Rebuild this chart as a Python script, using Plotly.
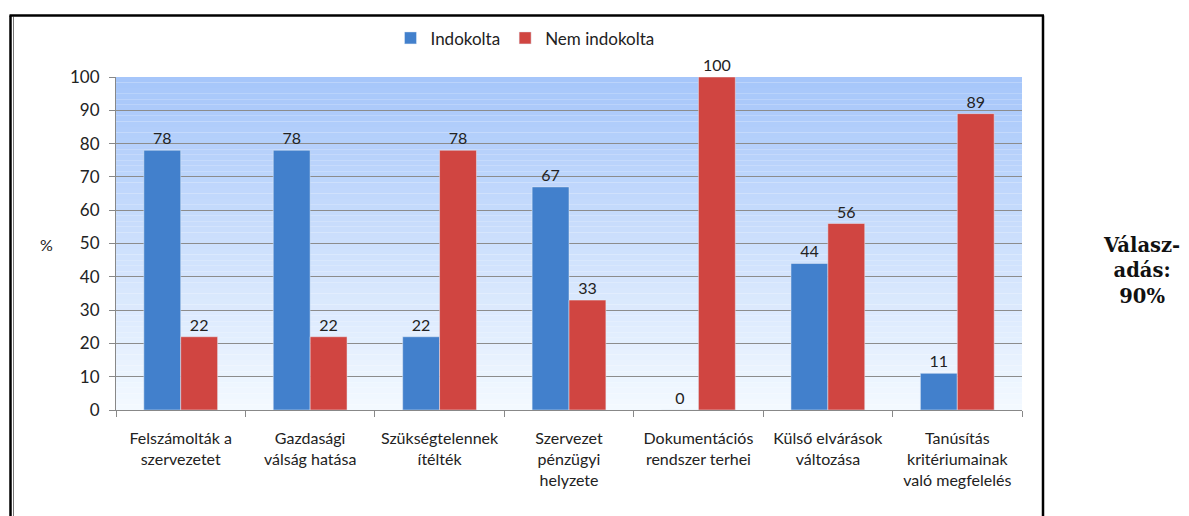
import plotly.graph_objects as go

categories = [
    "Felszámolták a<br>szervezetet",
    "Gazdasági<br>válság hatása",
    "Szükségtelennek<br>ítélték",
    "Szervezet<br>pénzügyi<br>helyzete",
    "Dokumentációs<br>rendszer terhei",
    "Külső elvárások<br>változása",
    "Tanúsítás<br>kritériumainak<br>való megfelelés",
]
indokolta = [78, 78, 22, 67, 0, 44, 11]
nem_indokolta = [22, 22, 78, 33, 100, 56, 89]
y_ticks = list(range(0, 101, 10))

FONT = "Lato"
OFF = 8  # browser default body margin
W, H = 1189 - OFF, 516 - OFF
# plot area in page pixel coordinates of the reference
L, R, T, B = 116, 1022, 74, 410

def px(x):
    return (x - L) / (R - L)

def py(y):
    return (B - y) / (B - T)

fig = go.Figure()
fig.add_trace(go.Bar(
    name="Indokolta", x=categories, y=indokolta,
    marker_color="#4280cc", text=[str(v) for v in indokolta],
    textposition="outside", cliponaxis=False,
    textfont=dict(size=16, color="#222222", family=FONT),
))
fig.add_trace(go.Bar(
    name="Nem indokolta", x=categories, y=nem_indokolta,
    marker_color="#d04541", text=[str(v) for v in nem_indokolta],
    textposition="outside", cliponaxis=False,
    textfont=dict(size=16, color="#222222", family=FONT),
))

shapes = []
steps = 60
top = (166, 198, 250)
bot = (243, 249, 255)
for i in range(steps):
    f = i / (steps - 1)
    c = tuple(round(bot[k] + (top[k] - bot[k]) * f) for k in range(3))
    shapes.append(dict(
        type="rect", xref="x domain", yref="y domain",
        x0=0, x1=1, y0=i / steps, y1=(i + 1) / steps,
        fillcolor="rgb(%d,%d,%d)" % c, line_width=0, layer="below",
    ))
# outer frame
shapes.append(dict(type="line", xref="paper", yref="paper",
                   x0=px(10.5), x1=px(10.5), y0=py(12), y1=py(530),
                   line=dict(color="black", width=2.5)))
shapes.append(dict(type="line", xref="paper", yref="paper",
                   x0=px(13.5), x1=px(13.5), y0=py(13), y1=py(530),
                   line=dict(color="#777777", width=1)))
shapes.append(dict(type="line", xref="paper", yref="paper",
                   x0=px(9.5), x1=px(1044), y0=py(12), y1=py(12),
                   line=dict(color="black", width=2.5)))
shapes.append(dict(type="line", xref="paper", yref="paper",
                   x0=px(1043), x1=px(1043), y0=py(12), y1=py(530),
                   line=dict(color="black", width=2.5)))

annotations = [
    dict(text="%", xref="paper", yref="paper", x=px(46), y=py(243),
         xanchor="center", yanchor="middle",
         showarrow=False, font=dict(size=16, family=FONT, color="#222222")),
    dict(text="<b>Válasz-<br>adás:<br>90%</b>", xref="paper", yref="paper",
         x=px(1141), y=py(270), xanchor="center", yanchor="middle",
         showarrow=False, align="center",
         font=dict(size=19.5, family="DejaVu Serif", color="#111111")),
]

fig.update_layout(
    width=W, height=H,
    margin=dict(l=L - OFF, r=1189 - R, t=T - OFF, b=(H + OFF) - B),
    paper_bgcolor="white", plot_bgcolor="rgba(0,0,0,0)",
    barmode="group", bargap=0.43, bargroupgap=0,
    font=dict(family=FONT, size=16, color="#222222"),
    legend=dict(orientation="h", x=px(525), y=py(35), xanchor="center",
                yanchor="middle", font=dict(size=17, family=FONT, color="#222222"),
                itemwidth=30, tracegroupgap=0, bgcolor="rgba(0,0,0,0)"),
    shapes=shapes, annotations=annotations,
    xaxis=dict(showline=True, linecolor="#888888", linewidth=1,
               ticks="outside", ticklen=6, tickcolor="#888888",
               tickson="boundaries", ticklabelstandoff=14,
               tickfont=dict(size=16, family=FONT, color="#222222"),
               showgrid=False),
    yaxis=dict(range=[0, 100], tickvals=y_ticks, showline=True, linecolor="#888888",
               linewidth=1, ticks="outside", ticklen=6, tickcolor="#888888",
               ticklabelstandoff=6,
               showgrid=True, gridcolor="#8c8c8c", gridwidth=1,
               tickfont=dict(size=17, family=FONT, color="#222222"),
               zeroline=False),
)

fig.write_html("out.html")
